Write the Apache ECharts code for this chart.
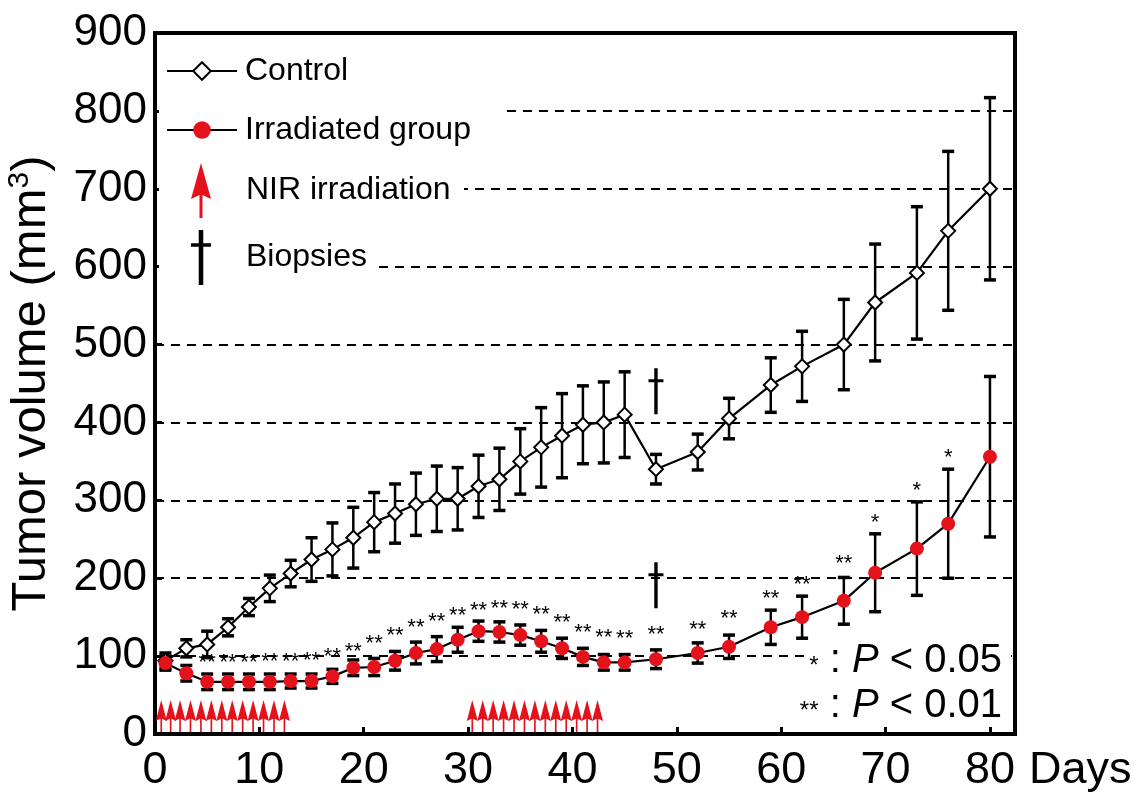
<!DOCTYPE html>
<html>
<head>
<meta charset="utf-8">
<script src="https://cdn.jsdelivr.net/npm/echarts@6/dist/echarts.min.js"></script>
<style>
html,body{margin:0;padding:0;background:#fff;}
#chart{width:1141px;height:793px;}
</style>
</head>
<body>
<div id="chart"></div>
<script>
// ---- data ----
const days = [1,3,5,7,9,11,13,15,17,19,21,23,25,27,29,31,33,35,37,39,41,43,45,48,52,55,59,62,66,69,73,76,80];
const controlMean = [94,110,115,137,163,187,206,224,237,252,272,283,295,302,302,318,327,350,368,383,397,400,410,340,362,405,448,472,500,554,592,646,700];
const controlErr  = [10,11,17,11,11,17,17,28,34,39,38,38,40,42,40,40,40,42,51,54,50,52,55,19,23,26,35,45,58,75,85,102,117];
const irradMean = [91,78,67,67,67,67,68,68,74,85,86,94,104,109,121,132,131,127,119,110,99,92,92,96,104,112,137,150,171,207,238,270,356];
const irradErr  = [9,10,10,10,10,10,9,9,9,10,11,12,14,16,16,13,13,13,14,13,11,10,10,12,13,15,22,27,30,50,60,70,103];
const starDays = [5,7,9,11,13,15,17,19,21,23,25,27,29,31,33,35,37,39,41,43,45,48,52,55,59,62,66,69,73,76];
const starY    = [98,98,98,99,99,100,105,112,122,132,142,150,158,165,167,166,159,149,136,130,129,134,140,154,180,198,225,278,319,361];
const starText = ['**','**','**','**','**','**','**','**','**','**','**','**','**','**','**','**','**','**','**','**','**','**','**','**','**','**','**','*','*','*'];
const nirDays = [0.6,1.5,2.4,3.4,4.4,5.4,6.4,7.4,8.4,9.4,10.4,11.4,12.4,30.4,31.4,32.4,33.4,34.4,35.4,36.4,37.4,38.4,39.4,40.4,41.4,42.4];
const nirLevel = 23;
const biopsyDay = 48;
const biopsyY = [440,191];
const xTicks = [0,10,20,30,40,50,60,70,80];
const yTicks = [0,100,200,300,400,500,600,700,800,900];

const FONT = '"Liberation Sans", Arial, Helvetica, sans-serif';
const RED = '#e3121b';
const arrowPath = 'path://M10,0 L20,36 L11.5,32 L11.5,55 L8.5,55 L8.5,32 L0,36 Z';
const daggerPath = 'path://M5.8,0 L9.2,0 L9.2,11 L15,11 L15,14 L9.2,14 L9.2,46 L5.8,46 L5.8,14 L0,14 L0,11 L5.8,11 Z';

function errRender(params, api) {
  const x = api.value(0), lo = api.value(1), hi = api.value(2);
  const p1 = api.coord([x, hi]), p2 = api.coord([x, lo]);
  const w = 6;
  return {type:'group', children:[
    {type:'line', shape:{x1:p1[0],y1:p1[1],x2:p2[0],y2:p2[1]}, style:{stroke:'#000',lineWidth:2.5}},
    {type:'line', shape:{x1:p1[0]-w,y1:p1[1],x2:p1[0]+w,y2:p1[1]}, style:{stroke:'#000',lineWidth:3.5}},
    {type:'line', shape:{x1:p2[0]-w,y1:p2[1],x2:p2[0]+w,y2:p2[1]}, style:{stroke:'#000',lineWidth:3.5}}
  ]};
}

const chart = echarts.init(document.getElementById('chart'), null, {renderer:'canvas'});
const option = {
  animation:false,
  backgroundColor:'#fff',
  grid:{left:155, right:126, top:33, bottom:59, show:true, borderColor:'#000', borderWidth:4,
        backgroundColor:'transparent', containLabel:false, outerBoundsMode:'none'},
  xAxis:{
    type:'value', min:0, max:82.4, interval:10,
    axisLine:{show:true, lineStyle:{color:'#000', width:4}},
    axisTick:{show:true, inside:true, length:7, lineStyle:{color:'#000', width:3}},
    axisLabel:{color:'#000', fontSize:45, fontFamily:FONT, margin:14, showMaxLabel:false,
      formatter:function(v){ return xTicks.indexOf(v) >= 0 ? String(v) : ''; }},
    splitLine:{show:false},
    name:'Days', nameLocation:'end', nameGap:14,
    nameTextStyle:{color:'#000', fontSize:45, fontFamily:FONT, verticalAlign:'top', lineHeight:46, padding:[14,0,0,0]}
  },
  yAxis:{
    type:'value', min:0, max:900, interval:100,
    axisLine:{show:true, lineStyle:{color:'#000', width:4}},
    axisTick:{show:true, inside:true, length:7, lineStyle:{color:'#000', width:3}},
    axisLabel:{color:'#000', fontSize:44, fontFamily:FONT, margin:8,
      formatter:function(v){ return yTicks.indexOf(v) >= 0 ? String(v) : ''; }},
    splitLine:{show:true, lineStyle:{color:'#000', width:2, type:[9,7]}},
    name:'{a|Tumor volume (mm}{b|3}{a|)}', nameLocation:'middle', nameRotate:90, nameGap:98,
    nameTextStyle:{color:'#000', fontFamily:FONT,
      rich:{a:{fontSize:49, fontFamily:FONT, color:'#000', lineHeight:52},
            b:{fontSize:30, fontFamily:FONT, color:'#000', verticalAlign:'top', lineHeight:52}}}
  },
  legend:[
    {orient:'vertical', left:166, top:55, padding:0, itemWidth:70, itemHeight:22, itemGap:27, selectedMode:false,
     data:['Control','Irradiated group'],
     textStyle:{fontSize:32, fontFamily:FONT, color:'#000', lineHeight:30, padding:[0,0,0,3]}},
    {orient:'vertical', left:191, top:163, padding:0, itemWidth:20, itemHeight:55, itemGap:12, selectedMode:false,
     symbolKeepAspect:false,
     data:[{name:'NIR irradiation', icon:arrowPath, itemStyle:{color:RED, opacity:1}},
           {name:'Biopsies', icon:daggerPath, itemStyle:{color:'#000', opacity:1}}],
     textStyle:{fontSize:32, fontFamily:FONT, color:'#000', lineHeight:30, padding:[0,0,0,30]}}
  ],
  graphic:[
    {type:'rect', z:1, shape:{x:159, y:103, width:348, height:16}, style:{fill:'#fff'}},
    {type:'rect', z:1, shape:{x:159, y:181, width:305, height:16}, style:{fill:'#fff'}},
    {type:'rect', z:1, shape:{x:159, y:259, width:213, height:16}, style:{fill:'#fff'}},
    {type:'rect', z:1, shape:{x:805, y:648, width:206, height:16}, style:{fill:'#fff'}},
    {type:'text', z:5, x:1002, y:661, style:{text:'{s|*} : {i|P} < 0.05', align:'right', verticalAlign:'middle',
      fill:'#000', font:'40px ' + FONT,
      rich:{s:{fontSize:24, fontFamily:FONT, fill:'#000', padding:[10,0,0,0]}, i:{fontSize:40, fontFamily:FONT, fontStyle:'italic', fill:'#000'}}}},
    {type:'text', z:5, x:1002, y:706, style:{text:'{s|**} : {i|P} < 0.01', align:'right', verticalAlign:'middle',
      fill:'#000', font:'40px ' + FONT,
      rich:{s:{fontSize:24, fontFamily:FONT, fill:'#000', padding:[10,0,0,0]}, i:{fontSize:40, fontFamily:FONT, fontStyle:'italic', fill:'#000'}}}}
  ],
  series:[
    {type:'custom', name:'controlErr', renderItem:errRender, z:2,
     data:days.map((d,i)=>[d, controlMean[i]-controlErr[i], controlMean[i]+controlErr[i]]),
     encode:{x:0, y:[1,2]}},
    {type:'custom', name:'irradErr', renderItem:errRender, z:2,
     data:days.map((d,i)=>[d, irradMean[i]-irradErr[i], irradMean[i]+irradErr[i]]),
     encode:{x:0, y:[1,2]}},
    {type:'line', name:'Control', z:3, symbol:'diamond', symbolSize:14, showAllSymbol:true,
     data:days.map((d,i)=>[d, controlMean[i]]),
     itemStyle:{color:'#fff', borderColor:'#000', borderWidth:2},
     lineStyle:{color:'#000', width:2.2}},
    {type:'line', name:'Irradiated group', z:3, symbol:'circle', symbolSize:14, showAllSymbol:true,
     data:days.map((d,i)=>[d, irradMean[i]]),
     itemStyle:{color:RED, borderColor:RED, borderWidth:0},
     lineStyle:{color:'#000', width:2.2}},
    {type:'custom', name:'stars', z:4,
     data:starDays.map((d,i)=>[d, starY[i]]),
     encode:{x:0, y:1},
     renderItem:function(params, api){
       const p = api.coord([api.value(0), api.value(1)]);
       return {type:'text', x:p[0], y:p[1]+5,
         style:{text:starText[params.dataIndex], fill:'#000', font:'22px ' + FONT, align:'center', verticalAlign:'middle'}};
     }},
    {type:'scatter', name:'Biopsies', z:4, symbol:daggerPath, symbolSize:[15,46], symbolKeepAspect:false,
     itemStyle:{color:'#000', opacity:1},
     data:biopsyY.map(v=>[biopsyDay, v])},
    {type:'scatter', name:'NIR irradiation', z:4, symbol:arrowPath, symbolSize:[11,32], symbolKeepAspect:false,
     itemStyle:{color:RED, opacity:1},
     data:nirDays.map(d=>[d, nirLevel])}
  ]
};
chart.setOption(option);
</script>
</body>
</html>
